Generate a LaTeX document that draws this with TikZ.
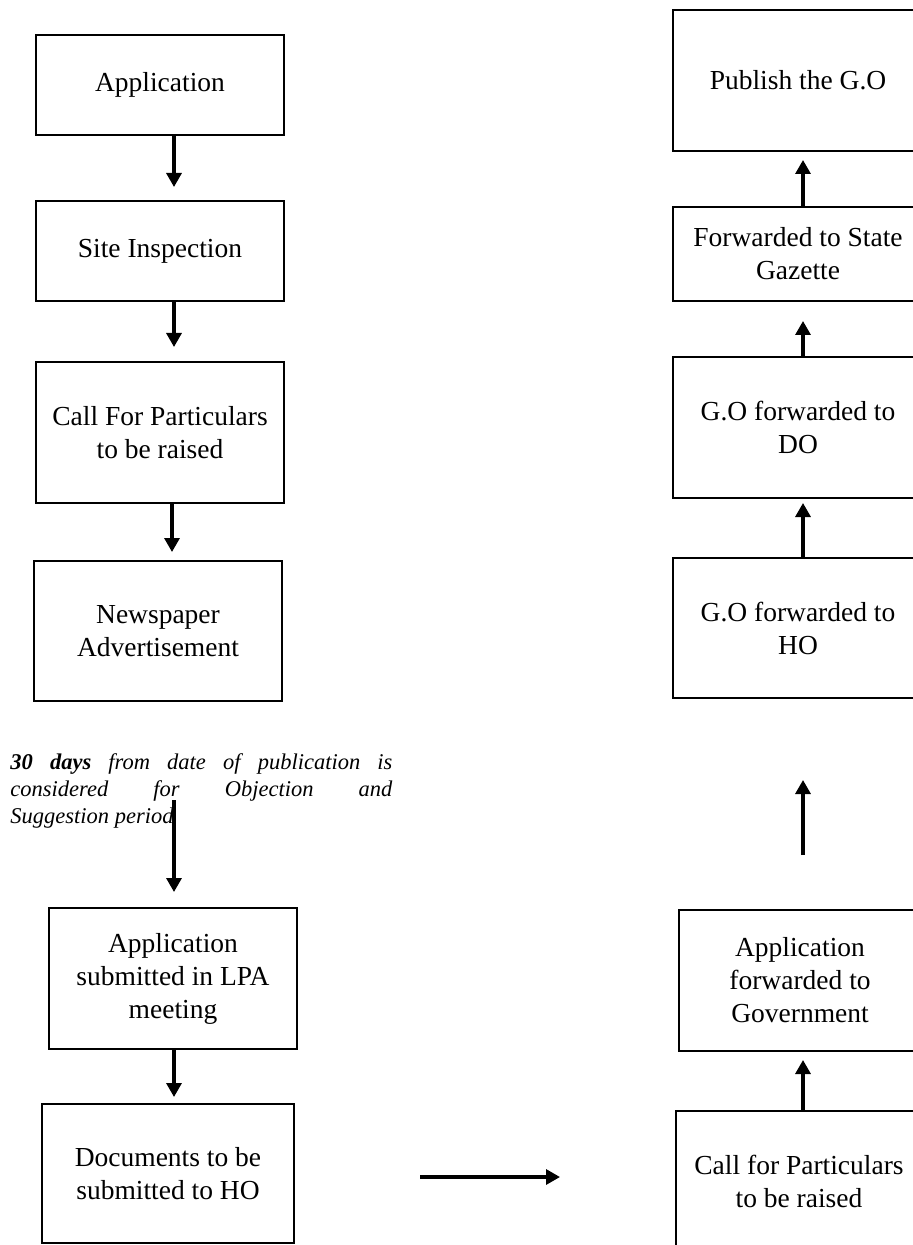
\documentclass[tikz,border=0pt]{standalone}
\usepackage{fontspec}
\setmainfont{Liberation Serif}
\usepackage{tikz}
\usetikzlibrary{positioning, arrows.meta, calc}

\tikzset{
    box/.style={draw, line width=0.9pt, minimum width=124pt, minimum height=70.5pt,
        inner sep=0pt, outer sep=0pt, align=center, font=\fontsize{13.75}{16.5}\selectfont},
    note/.style={inner sep=0pt, text width=191pt, align=justify,
        font=\fontsize{11.25}{13.5}\selectfont\itshape},
    flow/.style={-{Triangle[width=7.5pt,length=7pt]}, line width=1.6pt}
}

\begin{document}
\begin{tikzpicture}
    \useasboundingbox (0,0) rectangle (456.5pt,-622.5pt);

    % left column, top to bottom
    \node[box, minimum height=50pt] (app) at (80pt,-42.5pt) {Application};
    \node[box, minimum height=50pt, below=33pt of app] (site) {Site Inspection};
    \node[box, below=30.5pt of site] (callp) {Call For Particulars\\to be raised};
    \node[box, minimum height=70pt, below=29pt of callp, xshift=-1pt] (news) {Newspaper\\Advertisement};
    \node[note, below=26pt of news.south west, anchor=north west, xshift=-12pt] (period)
        {\textbf{30 days} from date of publication is\linebreak
         considered for Objection and\linebreak Suggestion period};
    \node[box, below=103.5pt of news, xshift=7.5pt] (lpa) {Application\\submitted in LPA\\meeting};
    \node[box, minimum width=126pt, minimum height=69.5pt, below=27.5pt of lpa, xshift=-2.5pt] (docs)
        {Documents to be\\submitted to HO};

    % right column, bottom to top
    \node[box, minimum width=125pt] (pub) at (399pt,-40.25pt) {Publish the G.O};
    \node[box, minimum width=125pt, minimum height=47pt, below=28pt of pub] (gazette) {Forwarded to State\\Gazette};
    \node[box, minimum width=125pt, below=28pt of gazette] (godo) {G.O forwarded to\\DO};
    \node[box, minimum width=125pt, minimum height=70pt, below=30pt of godo] (goho) {G.O forwarded to\\HO};
    \node[box, minimum width=121pt, below=106pt of goho, xshift=1pt] (fwdgov) {Application\\forwarded to\\Government};
    \node[box, minimum width=123pt, below=30pt of fwdgov, xshift=-0.5pt] (callgov) {Call for Particulars\\to be raised};

    \draw[flow, shorten >=7pt] ([xshift=7pt]app.south) -- ([xshift=7pt]site.north);
    \draw[flow, shorten >=7.5pt] ([xshift=7pt]site.south) -- ([xshift=7pt]callp.north);
    \draw[flow, shorten >=4.5pt] ([xshift=6pt]callp.south) -- ([xshift=7pt]news.north);
    \draw[flow, shorten <=49.5pt, shorten >=8pt] ([xshift=8pt]news.south) -- ([xshift=0.5pt]lpa.north);
    \draw[flow, shorten >=3.5pt] ([xshift=0.5pt]lpa.south) -- ([xshift=3pt]docs.north);
    \draw[flow, shorten <=63pt, shorten >=58pt] ([yshift=-1.75pt]docs.east) -- ([yshift=-1.75pt]docs.east -| callgov.west);

    \draw[flow, shorten >=4.5pt] ([xshift=2pt]callgov.north) -- ([xshift=1.5pt]fwdgov.south);
    \draw[flow, shorten <=27.5pt, shorten >=41pt] ([xshift=1.5pt]fwdgov.north) -- ([xshift=2.5pt]goho.south);
    \draw[flow, shorten >=2.5pt] ([xshift=2.5pt]goho.north) -- ([xshift=2.5pt]godo.south);
    \draw[flow, shorten >=10pt] ([xshift=2.5pt]godo.north) -- ([xshift=2.5pt]gazette.south);
    \draw[flow, shorten >=4.5pt] ([xshift=2.5pt]gazette.north) -- ([xshift=2.5pt]pub.south);

\end{tikzpicture}
\end{document}
